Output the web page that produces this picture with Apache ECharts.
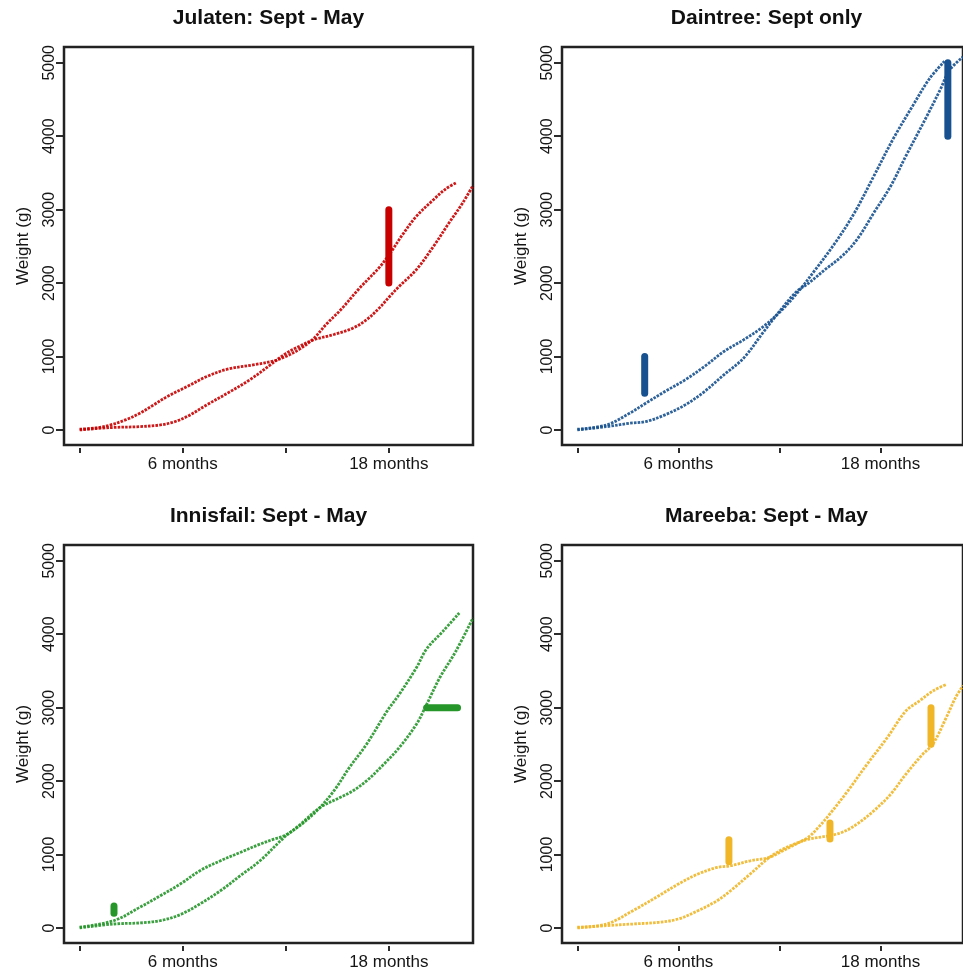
<!DOCTYPE html>
<html>
<head>
<meta charset="utf-8">
<script src="https://cdn.jsdelivr.net/npm/echarts@6/dist/echarts.min.js"></script>
<style>
  html, body { margin: 0; padding: 0; background: #fff; }
  #chart { width: 963px; height: 972px; }
</style>
</head>
<body>
<div id="chart"></div>
<script>
// Growth curves (age in months, weight in grams) for four sites.
const panelTitles = ['Julaten: Sept - May', 'Daintree: Sept only', 'Innisfail: Sept - May', 'Mareeba: Sept - May'];
const panelColors = ['#c80000', '#17518f', '#26962a', '#f0b628'];

const monthTicks = [0, 6, 12, 18];
const monthLabels = [6, 18];
const weightTicks = [0, 1000, 2000, 3000, 4000, 5000];

// Julaten
const julatenEarly = [[0,10],[1,30],[1.8,68],[2.7,140],[3.5,227],[4.3,340],[5.1,455],[6.25,590],[7.4,727],[8.6,827],[10.1,886],[11.3,940],[12.0,1000],[12.8,1100],[13.6,1240],[14.4,1450],[15.2,1636],[16.3,1932],[17.5,2227],[18.15,2432],[18.8,2660],[19.6,2909],[20.6,3136],[21.3,3280],[21.9,3364]];
const julatenLate = [[0,0],[1.8,32],[3.5,45],[4.7,68],[5.5,110],[6.25,182],[7.4,341],[8.6,500],[9.9,682],[11.1,886],[12.0,1040],[12.8,1140],[13.6,1225],[14.8,1300],[15.9,1386],[16.7,1500],[17.4,1650],[18.05,1818],[18.6,1955],[19.6,2182],[20.6,2500],[21.5,2818],[22.3,3091],[22.9,3330]];
const julatenRanges = [[18, 2000, 3000]];

// Daintree
const daintreeEarly = [[0,10],[1.74,68],[3.1,227],[4.06,364],[5.2,523],[6.4,682],[7.55,864],[8.7,1068],[9.87,1227],[11.0,1400],[12.0,1600],[13.0,1850],[14.13,2182],[15.3,2545],[16.45,2955],[17.6,3455],[18.77,3970],[19.93,4420],[20.9,4780],[21.8,5020]];
const daintreeLate = [[0,0],[1.74,45],[3.1,91],[4.06,114],[5.2,205],[6.4,341],[7.55,523],[8.7,750],[9.87,977],[11.0,1318],[12.0,1614],[13.0,1880],[13.74,2000],[14.7,2182],[15.7,2364],[16.6,2591],[17.6,2955],[18.6,3318],[19.5,3727],[20.7,4250],[21.56,4640],[22.1,4900],[22.9,5080]];
const daintreeRanges = [[4, 500, 1000], [22, 4000, 5000]];

// Innisfail
const innisfailEarly = [[0,10],[2.0,100],[3.5,281],[4.7,439],[5.86,598],[7.0,779],[8.2,915],[9.35,1028],[10.5,1141],[11.3,1209],[11.9,1254],[12.8,1390],[13.8,1594],[14.8,1866],[15.7,2183],[16.7,2500],[17.9,2953],[18.6,3179],[19.6,3542],[20.2,3800],[21.15,4040],[22.1,4289]];
const innisfailLate = [[0,0],[2.0,54],[3.5,68],[4.7,100],[5.86,181],[7.0,326],[8.2,507],[9.35,711],[10.5,915],[11.9,1232],[12.8,1400],[14.0,1640],[15.15,1775],[15.9,1866],[16.7,2002],[17.7,2228],[18.6,2455],[19.6,2772],[20.2,3043],[20.96,3406],[21.9,3768],[22.9,4221]];
const innisfailRanges = [[2, 200, 300]];
const innisfailSpan = [[20.2, 22.0, 3000]];

// Mareeba
const mareebaEarly = [[0,10],[1.74,54],[3.3,235],[4.84,439],[6.0,598],[7.16,734],[8.3,824],[9.1,847],[10.26,915],[11.4,960],[12.2,1051],[12.97,1141],[13.74,1240],[14.3,1367],[14.9,1526],[16.06,1866],[17.2,2228],[18.4,2591],[19.5,2953],[20.3,3089],[21.1,3225],[21.9,3315]];
const mareebaLate = [[0,0],[1.74,32],[3.3,54],[4.84,77],[6.0,122],[7.16,235],[8.3,371],[9.1,507],[10.26,734],[11.4,960],[12.2,1073],[12.97,1150],[13.74,1209],[14.9,1254],[15.7,1300],[16.6,1413],[17.6,1594],[18.6,1820],[19.5,2092],[20.5,2364],[21.1,2500],[21.9,2862],[22.45,3134],[22.9,3300]];
const mareebaRanges = [[9, 900, 1200], [15, 1210, 1430], [21, 2500, 3000]];

const panels = [
  { early: julatenEarly, late: julatenLate, ranges: julatenRanges, spans: [] },
  { early: daintreeEarly, late: daintreeLate, ranges: daintreeRanges, spans: [] },
  { early: innisfailEarly, late: innisfailLate, ranges: innisfailRanges, spans: innisfailSpan },
  { early: mareebaEarly, late: mareebaLate, ranges: mareebaRanges, spans: [] }
];

// Plot boxes in pixels
const boxes = [
  { left: 64, top: 47, width: 409, height: 398 },
  { left: 562, top: 47, width: 409, height: 398 },
  { left: 64, top: 545, width: 409, height: 398 },
  { left: 562, top: 545, width: 409, height: 398 }
];

const FONT = '"Liberation Sans", Arial, Helvetica, sans-serif';
const INK = '#151515';

const grid = [], xAxis = [], yAxis = [], series = [], graphic = [];

boxes.forEach((b, i) => {
  grid.push({
    left: b.left, top: b.top, width: b.width, height: b.height,
    show: true, borderColor: '#222', borderWidth: 2.5, backgroundColor: 'transparent',
    containLabel: false
  });
  xAxis.push({
    type: 'value', gridIndex: i, min: -0.91, max: 22.9, offset: 3, position: 'bottom',
    axisLine: { show: false, onZero: false },
    axisTick: { show: true, customValues: monthTicks, length: 5, lineStyle: { color: INK, width: 1.8 } },
    axisLabel: {
      show: true, customValues: monthLabels, margin: 8,
      formatter: v => v + ' months',
      fontFamily: FONT, fontSize: 17, color: INK
    },
    splitLine: { show: false }
  });
  yAxis.push({
    type: 'value', gridIndex: i, min: -205, max: 5215, position: 'left', offset: 1,
    name: 'Weight (g)', nameLocation: 'middle', nameGap: 31, nameRotate: 90,
    nameTextStyle: { fontFamily: FONT, fontSize: 17, color: INK },
    axisLine: { show: true, onZero: false, lineStyle: { color: 'rgba(0,0,0,0)', width: 0 } },
    axisTick: { show: true, inside: false, customValues: weightTicks, length: 7, lineStyle: { color: INK, width: 1.8 } },
    axisLabel: {
      show: true, customValues: weightTicks, rotate: 90, margin: 5,
      formatter: v => String(v),
      fontFamily: FONT, fontSize: 16, color: INK
    },
    splitLine: { show: false }
  });

  const p = panels[i];
  const col = panelColors[i];
  [p.early, p.late].forEach(curve => {
    series.push({
      type: 'line', xAxisIndex: i, yAxisIndex: i, data: curve,
      smooth: 0.35, showSymbol: false, symbol: 'none', clip: true,
      lineStyle: { color: col, width: 2.8, type: [2.6, 1.2], opacity: 0.9 },
      silent: true, animation: false
    });
  });
  p.ranges.forEach(r => {
    series.push({
      type: 'line', xAxisIndex: i, yAxisIndex: i,
      data: [[r[0], r[1]], [r[0], r[2]]],
      showSymbol: false, symbol: 'none', clip: false,
      lineStyle: { color: col, width: 7, cap: 'round' },
      silent: true, animation: false
    });
  });
  p.spans.forEach(s => {
    series.push({
      type: 'line', xAxisIndex: i, yAxisIndex: i,
      data: [[s[0], s[2]], [s[1], s[2]]],
      showSymbol: false, symbol: 'none', clip: false,
      lineStyle: { color: col, width: 7, cap: 'round' },
      silent: true, animation: false
    });
  });

  graphic.push({
    type: 'text', x: b.left + b.width / 2, y: b.top - 29,
    style: {
      text: panelTitles[i], fill: '#111',
      font: 'bold 21px ' + FONT,
      textAlign: 'center', textVerticalAlign: 'middle'
    }
  });
});

const chart = echarts.init(document.getElementById('chart'), null, { renderer: 'canvas' });
chart.setOption({
  backgroundColor: '#ffffff',
  animation: false,
  grid, xAxis, yAxis, series, graphic
});
</script>
</body>
</html>
